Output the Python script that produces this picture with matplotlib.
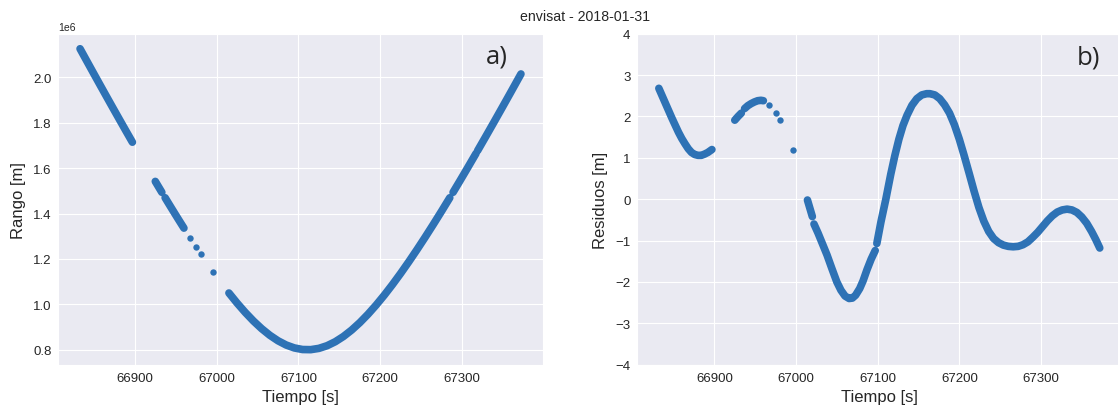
import matplotlib
matplotlib.use("Agg")
import matplotlib.pyplot as plt
import seaborn as sns

# --- rango [m] frente a tiempo [s], por tramos de la pasada ---
t_rango_1 = [66833, 66841, 66849, 66857, 66865, 66873, 66881, 66889, 66897]
rango_1 = [2.12564e6, 2.07324e6, 2.02108e6, 1.96917e6, 1.91752e6, 1.86616e6,
           1.81513e6, 1.76444e6, 1.71412e6]

t_rango_2 = [66925, 66929, 66933]
rango_2 = [1.54147e6, 1.51732e6, 1.49332e6]

t_rango_3 = [66937, 66941, 66945, 66949, 66953, 66957, 66960]
rango_3 = [1.46948e6, 1.44578e6, 1.42227e6, 1.39893e6, 1.37578e6, 1.35283e6, 1.33575e6]

t_rango_4 = [67015, 67025, 67035, 67045, 67055, 67065, 67075, 67085, 67095, 67105,
             67115, 67125, 67135, 67145, 67155, 67165, 67175, 67185, 67195, 67205,
             67215, 67225, 67235, 67245, 67255, 67265, 67275, 67285]
rango_4 = [1.05000e6, 1.00556e6, 0.96429e6, 0.92660e6, 0.89296e6, 0.86382e6, 0.83967e6,
           0.82093e6, 0.80799e6, 0.80113e6, 0.80050e6, 0.80613e6, 0.81787e6, 0.83547e6,
           0.85858e6, 0.88676e6, 0.91954e6, 0.95646e6, 0.99705e6, 1.04087e6, 1.08756e6,
           1.13675e6, 1.18812e6, 1.24141e6, 1.29638e6, 1.35283e6, 1.41058e6, 1.46948e6]

t_rango_5 = [67289, 67297, 67305, 67317]
rango_5 = [1.49332e6, 1.54147e6, 1.59019e6, 1.66420e6]

t_rango_6 = [67319, 67329, 67339, 67349, 67359, 67372]
rango_6 = [1.67664e6, 1.73922e6, 1.80242e6, 1.86616e6, 1.93040e6, 2.01460e6]

# puntos sueltos
t_sueltos = [66967.5, 66975, 66980.5, 66996]
rango_sueltos = [1.29359e6, 1.25227e6, 1.22255e6, 1.14179e6]

# --- residuos [m] ---
t_res_1 = [66832, 66836, 66840, 66844, 66848, 66852, 66856, 66860, 66864, 66868,
           66872, 66876, 66880, 66884, 66888, 66892, 66897]
res_1 = [2.68, 2.50, 2.32, 2.14, 1.96, 1.79, 1.62, 1.47, 1.34, 1.22,
         1.13, 1.08, 1.06, 1.06, 1.09, 1.13, 1.20]

t_res_2 = [66925, 66929, 66933]
res_2 = [1.91, 2.00, 2.08]

t_res_3 = [66937, 66941, 66945, 66949, 66953, 66957, 66960]
res_3 = [2.19, 2.26, 2.31, 2.35, 2.38, 2.39, 2.38]

t_res_4 = [67014, 67017, 67020]
res_4 = [-0.02, -0.22, -0.42]

t_res_5 = [67022, 67027, 67032, 67038, 67044, 67050, 67055, 67060, 67065, 67069,
           67073, 67078, 67082, 67087, 67092, 67097]
res_5 = [-0.60, -0.82, -1.06, -1.35, -1.68, -2.00, -2.20, -2.34, -2.40, -2.39,
         -2.32, -2.16, -1.98, -1.70, -1.45, -1.24]

t_res_6 = [67099, 67104, 67110, 67116, 67121, 67126, 67131, 67136, 67142, 67148,
           67154, 67160, 67164, 67170, 67176, 67182, 67188, 67194, 67200, 67206,
           67212, 67218, 67224, 67230, 67236, 67242, 67248, 67254, 67260, 67266,
           67272, 67278, 67284, 67290, 67296, 67302, 67308, 67314, 67320, 67326,
           67332, 67338, 67344, 67350, 67356, 67362, 67367, 67372]
res_6 = [-1.07, -0.55, 0.00, 0.60, 1.05, 1.45, 1.78, 2.03, 2.27, 2.43,
         2.52, 2.55, 2.55, 2.52, 2.43, 2.28, 2.08, 1.80, 1.45, 1.05,
         0.63, 0.20, -0.20, -0.53, -0.78, -0.95, -1.05, -1.11, -1.14, -1.15,
         -1.14, -1.10, -1.03, -0.92, -0.80, -0.66, -0.52, -0.40, -0.31, -0.26,
         -0.24, -0.26, -0.32, -0.43, -0.58, -0.78, -0.97, -1.18]

res_sueltos = [2.28, 2.09, 1.92, 1.19]

tramos_rango = [(t_rango_1, rango_1), (t_rango_2, rango_2), (t_rango_3, rango_3),
                (t_rango_4, rango_4), (t_rango_5, rango_5), (t_rango_6, rango_6)]
tramos_res = [(t_res_1, res_1), (t_res_2, res_2), (t_res_3, res_3),
              (t_res_4, res_4), (t_res_5, res_5), (t_res_6, res_6)]

sns.set_style("darkgrid")
plt.rcParams['font.family'] = ['Liberation Sans', 'DejaVu Sans']

azul = '#2e72b5'
W, H = 1118, 406
fig = plt.figure(figsize=(W / 100, H / 100), dpi=100)
ax1 = fig.add_axes([58 / W, 40.3 / H, 485 / W, 331 / H])
ax2 = fig.add_axes([636.8 / W, 40.3 / H, 485 / W, 331 / H])

for ax, tramos, ys in [(ax1, tramos_rango, rango_sueltos), (ax2, tramos_res, res_sueltos)]:
    for t, v in tramos:
        ax.plot(t, v, '-', color=azul, lw=5.5, solid_capstyle='round', solid_joinstyle='round')
    ax.plot(t_sueltos, ys, 'o', color=azul, ms=4.6, mew=0)
    ax.set_xticks([66900, 67000, 67100, 67200, 67300])
    ax.tick_params(axis='x', length=0, labelsize=9.5, pad=5.5, colors='.15')
    ax.tick_params(axis='y', length=0, labelsize=9.5, pad=4.5, colors='.15')
    ax.set_xlabel("Tiempo [s]", fontsize=12, color='.15', labelpad=3)

ax1.set_yticks([0.8e6, 1.0e6, 1.2e6, 1.4e6, 1.6e6, 1.8e6, 2.0e6])
ax1.yaxis.get_offset_text().set_fontsize(7.5)
ax1.set_ylabel("Rango [m]", fontsize=12, color='.15', labelpad=5)

ax2.set_ylim(-4, 4)
ax2.set_yticks(range(-4, 5))
ax2.set_ylabel("Residuos [m]", fontsize=12, color='.15', labelpad=5)

ax1.text(0.928, 0.913, "a)", transform=ax1.transAxes, ha='right', va='baseline',
         fontsize=18.5, family=['Open Sans', 'DejaVu Sans'])
ax2.text(0.955, 0.911, "b)", transform=ax2.transAxes, ha='right', va='baseline',
         fontsize=18.5, family=['Open Sans', 'DejaVu Sans'])

fig.text(585 / W, 1 - 17 / H, "envisat - 2018-01-31", ha='center', va='center',
         fontsize=10.2, color='.15')

fig.savefig("out.png", dpi=100)
